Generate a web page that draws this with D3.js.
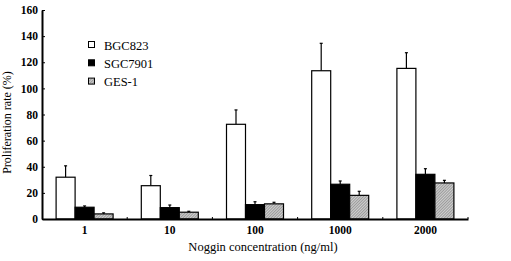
<!DOCTYPE html>
<html>
<head>
<meta charset="utf-8">
<script src="https://cdn.jsdelivr.net/npm/d3@7"></script>
<style>
  body { margin: 0; background: #fff; }
  text { font-family: "Liberation Serif", "Times New Roman", serif; fill: #000; }
</style>
</head>
<body>
<div id="viz"></div>
<script>
// data
const concentrations = ["1", "10", "100", "1000", "2000"];
const seriesNames = ["BGC823", "SGC7901", "GES-1"];
const bgc823 = [32, 25.5, 72.5, 113.5, 115.3];
const bgc823Err = [8.7, 7.8, 11, 21, 12];
const sgc7901 = [9, 8.7, 11, 26.6, 34.2];
const sgc7901Err = [1, 2, 2.2, 2.5, 4.3];
const ges1 = [3.9, 5.2, 11.6, 18.1, 27.6];
const ges1Err = [0.8, 0.7, 1.2, 3.1, 2];
const yTicks = [0, 20, 40, 60, 80, 100, 120, 140, 160];

function draw() {
  const dms = {
    width: 511,
    height: 261,
    margins: { top: 10, left: 42, right: 43, bottom: 42 }
  };
  dms.innerWidth = dms.width - dms.margins.left - dms.margins.right;
  dms.innerHeight = dms.height - dms.margins.top - dms.margins.bottom;

  const svg = d3.select("#viz")
                  .append("svg")
                    .attr("width", dms.width)
                    .attr("height", dms.height);

  // fine hatch for GES-1
  const defs = svg.append("defs");
  const pattern = defs.append("pattern")
                        .attr("id", "hatch")
                        .attr("patternUnits", "userSpaceOnUse")
                        .attr("width", 2)
                        .attr("height", 2)
                        .attr("patternTransform", "rotate(45)");
  pattern.append("rect").attr("width", 2).attr("height", 2).attr("fill", "#d0d0d0");
  pattern.append("line")
           .attr("x1", 0).attr("y1", 0).attr("x2", 0).attr("y2", 2)
           .attr("stroke", "#666").attr("stroke-width", 1);

  const g = svg.append("g")
                 .attr("transform", `translate(${dms.margins.left},${dms.margins.top})`);

  // scales
  const xScale = d3.scaleBand()
                     .domain(concentrations)
                     .range([0, dms.innerWidth]);

  const groupWidth = 57;
  const xInner = d3.scaleBand()
                     .domain(seriesNames)
                     .range([0, groupWidth]);

  const yScale = d3.scaleLinear()
                     .domain([0, 160])
                     .range([dms.innerHeight, 0]);

  const fills = { "BGC823": "#fff", "SGC7901": "#000", "GES-1": "url(#hatch)" };

  const rows = concentrations.map((c, i) => ({
    conc: c,
    values: [
      { name: "BGC823", v: bgc823[i], e: bgc823Err[i] },
      { name: "SGC7901", v: sgc7901[i], e: sgc7901Err[i] },
      { name: "GES-1", v: ges1[i], e: ges1Err[i] }
    ]
  }));

  const groups = g.selectAll("g.group")
                    .data(rows)
                    .join("g")
                      .attr("class", "group")
                      .attr("transform", d => `translate(${xScale(d.conc) + (xScale.bandwidth() - groupWidth) / 2},0)`);

  // error bars (upward only)
  const errs = groups.selectAll("g.err")
                       .data(d => d.values)
                       .join("g")
                         .attr("class", "err")
                         .attr("transform", d => `translate(${xInner(d.name) + xInner.bandwidth() / 2},0)`);
  errs.append("line")
        .attr("y1", d => yScale(d.v))
        .attr("y2", d => yScale(d.v + d.e))
        .attr("stroke", "#000")
        .attr("stroke-width", 1.2);
  errs.append("line")
        .attr("x1", -1.5).attr("x2", 1.5)
        .attr("y1", d => yScale(d.v + d.e))
        .attr("y2", d => yScale(d.v + d.e))
        .attr("stroke", "#000")
        .attr("stroke-width", 1.2);

  groups.selectAll("rect")
          .data(d => d.values)
          .join("rect")
            .attr("x", d => xInner(d.name))
            .attr("y", d => yScale(d.v))
            .attr("width", xInner.bandwidth())
            .attr("height", d => yScale(0) - yScale(d.v))
            .attr("fill", d => fills[d.name])
            .attr("stroke", "#000")
            .attr("stroke-width", 1.2);

  // y axis
  const yAxis = d3.axisLeft(yScale)
                    .tickValues(yTicks)
                    .tickSizeInner(-3)
                    .tickSizeOuter(0)
                    .tickPadding(6);
  const yAxisG = g.append("g").call(yAxis);
  yAxisG.select(".domain").attr("stroke-width", 2);
  yAxisG.selectAll("text")
          .style("font-family", "'Liberation Serif', serif")
          .style("font-size", "11.5px")
          .style("font-weight", "bold")
          .attr("x", -4);

  // x axis
  const xAxis = d3.axisBottom(xScale)
                    .tickSize(0)
                    .tickPadding(7);
  const xAxisG = g.append("g")
                    .attr("transform", `translate(0,${dms.innerHeight})`)
                    .call(xAxis);
  xAxisG.select(".domain").attr("stroke-width", 2);
  xAxisG.selectAll("text")
          .style("font-family", "'Liberation Serif', serif")
          .style("font-size", "11.5px")
          .style("font-weight", "bold");

  // small separator ticks between categories
  g.selectAll("line.sep")
     .data(concentrations)
     .join("line")
       .attr("class", "sep")
       .attr("x1", d => xScale(d) + xScale.bandwidth())
       .attr("x2", d => xScale(d) + xScale.bandwidth())
       .attr("y1", dms.innerHeight)
       .attr("y2", dms.innerHeight - 2)
       .attr("stroke", "#000");

  // axis titles
  svg.append("text")
       .attr("transform", `translate(11,${dms.margins.top + dms.innerHeight / 2 + 8}) rotate(-90)`)
       .attr("text-anchor", "middle")
       .style("font-size", "12px")
       .text("Proliferation rate (%)");

  svg.append("text")
       .attr("x", 263)
       .attr("y", 251)
       .attr("text-anchor", "middle")
       .style("font-size", "12.5px")
       .text("Noggin concentration (ng/ml)");

  // legend
  const legend = svg.append("g")
                      .attr("transform", "translate(88,45)");
  const items = legend.selectAll("g")
                        .data(seriesNames)
                        .join("g")
                          .attr("transform", (d, i) => `translate(0,${i * 18.3})`);
  items.append("rect")
         .attr("x", 0.5).attr("y", -3.5)
         .attr("width", 6).attr("height", 6)
         .attr("fill", d => fills[d])
         .attr("stroke", "#000")
         .attr("stroke-width", 1);
  items.append("text")
         .attr("x", 16)
         .attr("y", 4.5)
         .style("font-size", "12.5px")
         .text(d => d);
}

draw();
</script>
</body>
</html>
